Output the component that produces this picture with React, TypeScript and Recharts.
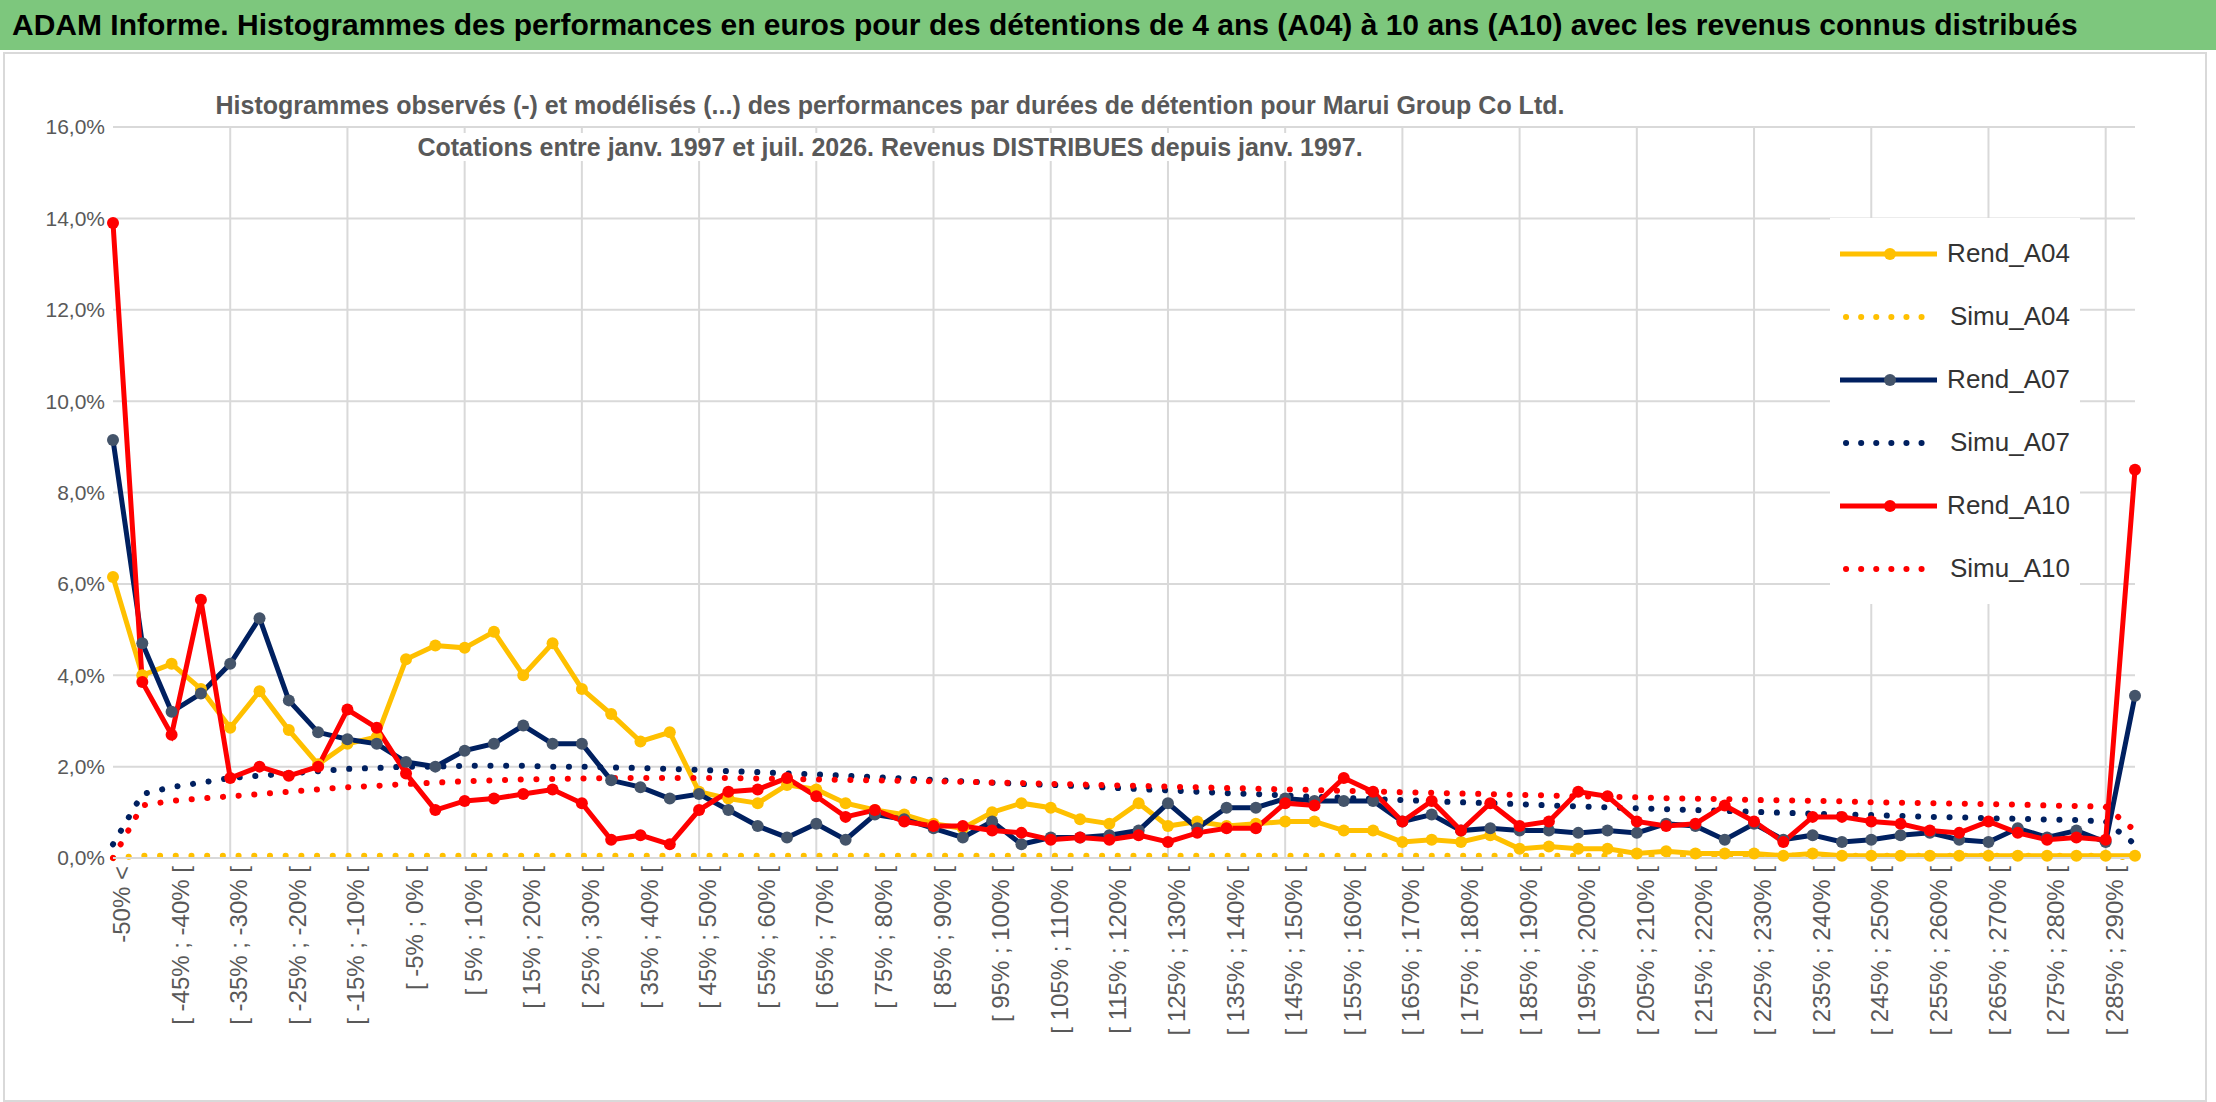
import React from "react";
import {
  LineChart,
  Line,
  XAxis,
  YAxis,
  CartesianGrid,
  ReferenceLine,
} from "recharts";

// catégories : "-50% <", puis tranches de 5% jusqu'à 290%, puis "290% >"
const CATS: string[] = [
  "-50% <",
  "[ -50% ; -45% [", "[ -45% ; -40% [", "[ -40% ; -35% [", "[ -35% ; -30% [",
  "[ -30% ; -25% [", "[ -25% ; -20% [", "[ -20% ; -15% [", "[ -15% ; -10% [",
  "[ -10% ; -5% [", "[ -5% ; 0% [", "[ 0% ; 5% [", "[ 5% ; 10% [",
  "[ 10% ; 15% [", "[ 15% ; 20% [", "[ 20% ; 25% [", "[ 25% ; 30% [",
  "[ 30% ; 35% [", "[ 35% ; 40% [", "[ 40% ; 45% [", "[ 45% ; 50% [",
  "[ 50% ; 55% [", "[ 55% ; 60% [", "[ 60% ; 65% [", "[ 65% ; 70% [",
  "[ 70% ; 75% [", "[ 75% ; 80% [", "[ 80% ; 85% [", "[ 85% ; 90% [",
  "[ 90% ; 95% [", "[ 95% ; 100% [", "[ 100% ; 105% [", "[ 105% ; 110% [",
  "[ 110% ; 115% [", "[ 115% ; 120% [", "[ 120% ; 125% [", "[ 125% ; 130% [",
  "[ 130% ; 135% [", "[ 135% ; 140% [", "[ 140% ; 145% [", "[ 145% ; 150% [",
  "[ 150% ; 155% [", "[ 155% ; 160% [", "[ 160% ; 165% [", "[ 165% ; 170% [",
  "[ 170% ; 175% [", "[ 175% ; 180% [", "[ 180% ; 185% [", "[ 185% ; 190% [",
  "[ 190% ; 195% [", "[ 195% ; 200% [", "[ 200% ; 205% [", "[ 205% ; 210% [",
  "[ 210% ; 215% [", "[ 215% ; 220% [", "[ 220% ; 225% [", "[ 225% ; 230% [",
  "[ 230% ; 235% [", "[ 235% ; 240% [", "[ 240% ; 245% [", "[ 245% ; 250% [",
  "[ 250% ; 255% [", "[ 255% ; 260% [", "[ 260% ; 265% [", "[ 265% ; 270% [",
  "[ 270% ; 275% [", "[ 275% ; 280% [", "[ 280% ; 285% [", "[ 285% ; 290% [",
  "290% >",
];

const REND_A04 = [
  6.15, 4.0, 4.25, 3.7, 2.85, 3.65, 2.8, 2.05, 2.5, 2.65,
  4.35, 4.65, 4.6, 4.95, 4.0, 4.7, 3.7, 3.15, 2.55, 2.75,
  1.45, 1.3, 1.2, 1.6, 1.5, 1.2, 1.05, 0.95, 0.75, 0.65,
  1.0, 1.2, 1.1, 0.85, 0.75, 1.2, 0.7, 0.8, 0.7, 0.75,
  0.8, 0.8, 0.6, 0.6, 0.35, 0.4, 0.35, 0.5, 0.2, 0.25,
  0.2, 0.2, 0.1, 0.15, 0.1, 0.1, 0.1, 0.05, 0.1, 0.05,
  0.05, 0.05, 0.05, 0.05, 0.05, 0.05, 0.05, 0.05, 0.05, 0.05,
];
const SIMU_A04 = [
  0.0, 0.05, 0.05, 0.05, 0.05, 0.05, 0.05, 0.05, 0.05, 0.05,
  0.05, 0.05, 0.05, 0.05, 0.05, 0.05, 0.05, 0.05, 0.05, 0.05,
  0.05, 0.05, 0.05, 0.05, 0.05, 0.05, 0.05, 0.05, 0.05, 0.05,
  0.05, 0.05, 0.05, 0.05, 0.05, 0.05, 0.05, 0.05, 0.05, 0.05,
  0.05, 0.05, 0.05, 0.05, 0.05, 0.05, 0.05, 0.05, 0.05, 0.05,
  0.05, 0.05, 0.05, 0.05, 0.05, 0.05, 0.05, 0.05, 0.05, 0.05,
  0.05, 0.05, 0.05, 0.05, 0.05, 0.05, 0.05, 0.05, 0.05, 0.0,
];
const REND_A07 = [
  9.15, 4.7, 3.2, 3.6, 4.25, 5.25, 3.45, 2.75, 2.6, 2.5,
  2.1, 2.0, 2.35, 2.5, 2.9, 2.5, 2.5, 1.7, 1.55, 1.3,
  1.4, 1.05, 0.7, 0.45, 0.75, 0.4, 0.95, 0.85, 0.65, 0.45,
  0.8, 0.3, 0.45, 0.45, 0.5, 0.6, 1.2, 0.65, 1.1, 1.1,
  1.3, 1.25, 1.25, 1.25, 0.8, 0.95, 0.6, 0.65, 0.6, 0.6,
  0.55, 0.6, 0.55, 0.75, 0.7, 0.4, 0.75, 0.4, 0.5, 0.35,
  0.4, 0.5, 0.55, 0.4, 0.35, 0.65, 0.45, 0.6, 0.35, 3.55,
];
const SIMU_A07 = [
  0.3, 1.4, 1.55, 1.65, 1.75, 1.8, 1.85, 1.9, 1.95, 1.97,
  2.0, 2.0, 2.02, 2.02, 2.02, 2.0, 2.0, 1.98, 1.97, 1.95,
  1.93, 1.9, 1.88, 1.85, 1.83, 1.8, 1.77, 1.74, 1.71, 1.68,
  1.65, 1.62, 1.6, 1.57, 1.54, 1.51, 1.48, 1.45, 1.42, 1.4,
  1.37, 1.34, 1.32, 1.29, 1.27, 1.24, 1.22, 1.2, 1.18, 1.15,
  1.13, 1.11, 1.09, 1.07, 1.05, 1.03, 1.01, 0.99, 0.97, 0.95,
  0.94, 0.92, 0.9, 0.89, 0.87, 0.86, 0.84, 0.83, 0.8, 0.3,
];
const REND_A10 = [
  13.9, 3.85, 2.7, 5.65, 1.75, 2.0, 1.8, 2.0, 3.25, 2.85,
  1.85, 1.05, 1.25, 1.3, 1.4, 1.5, 1.2, 0.4, 0.5, 0.3,
  1.05, 1.45, 1.5, 1.75, 1.35, 0.9, 1.05, 0.8, 0.7, 0.7,
  0.6, 0.55, 0.4, 0.45, 0.4, 0.5, 0.35, 0.55, 0.65, 0.65,
  1.2, 1.15, 1.75, 1.45, 0.8, 1.25, 0.6, 1.2, 0.7, 0.8,
  1.45, 1.35, 0.8, 0.7, 0.75, 1.15, 0.8, 0.35, 0.9, 0.9,
  0.8, 0.75, 0.6, 0.55, 0.8, 0.55, 0.4, 0.45, 0.4, 8.5,
];
const SIMU_A10 = [
  0.0, 1.15, 1.25, 1.3, 1.35, 1.4, 1.45, 1.5, 1.55, 1.58,
  1.62, 1.65, 1.68, 1.7, 1.72, 1.73, 1.74, 1.75, 1.75, 1.75,
  1.75, 1.75, 1.74, 1.73, 1.72, 1.71, 1.7, 1.69, 1.68, 1.67,
  1.65, 1.64, 1.62, 1.61, 1.59, 1.58, 1.56, 1.55, 1.53, 1.52,
  1.5, 1.49, 1.47, 1.46, 1.44, 1.43, 1.41, 1.4, 1.38, 1.37,
  1.35, 1.34, 1.33, 1.31, 1.3, 1.29, 1.27, 1.26, 1.25, 1.24,
  1.22, 1.21, 1.2, 1.19, 1.18, 1.17, 1.15, 1.14, 1.12, 0.6,
];

const Y_TICKS = [0, 2, 4, 6, 8, 10, 12, 14, 16];

const YELLOW = "#FFC000";
const NAVY = "#002060";
const RED = "#FF0000";
const FONT = "'Liberation Sans', Arial, sans-serif";

const SERIES = [
  { key: "Rend_A04", color: YELLOW, dotted: false, dotFill: YELLOW },
  { key: "Simu_A04", color: YELLOW, dotted: true, dotFill: YELLOW },
  { key: "Rend_A07", color: NAVY, dotted: false, dotFill: "#44546A" },
  { key: "Simu_A07", color: NAVY, dotted: true, dotFill: NAVY },
  { key: "Rend_A10", color: RED, dotted: false, dotFill: RED },
  { key: "Simu_A10", color: RED, dotted: true, dotFill: RED },
];

const rows = CATS.map((cat, i) => ({
  cat,
  Rend_A04: REND_A04[i],
  Simu_A04: SIMU_A04[i],
  Rend_A07: REND_A07[i],
  Simu_A07: SIMU_A07[i],
  Rend_A10: REND_A10[i],
  Simu_A10: SIMU_A10[i],
}));

const fmtPct = (v: number) => v.toFixed(1).replace(".", ",") + "%";

function LegendBox() {
  return (
    <div style={{ background: "#fff", padding: "4px 10px", fontFamily: FONT }}>
      {SERIES.map((s) => (
        <div key={s.key} style={{ display: "flex", alignItems: "center", height: 63 }}>
          <svg width={100} height={16}>
            {s.dotted ? (
              <line x1={6} y1={8} x2={96} y2={8} stroke={s.color} strokeWidth={6}
                strokeLinecap="round" strokeDasharray="0.1 15" />
            ) : (
              <>
                <line x1={0} y1={8} x2={100} y2={8} stroke={s.color} strokeWidth={5} />
                <circle cx={50} cy={8} r={6} fill={s.dotFill} />
              </>
            )}
          </svg>
          <span style={{ fontSize: 26, color: "#333", marginLeft: 10 }}>{s.key}</span>
        </div>
      ))}
    </div>
  );
}

export default function App() {
  return (
    <div style={{ position: "relative", width: 2216, height: 1102, background: "#fff", fontFamily: FONT }}>
      <style>{`body{margin:0}`}</style>
      <div
        style={{
          position: "absolute", left: 0, top: 0, width: 2216, height: 50, boxSizing: "border-box",
          background: "#7DC77D", display: "flex", alignItems: "center", paddingLeft: 12,
          fontSize: 30, fontWeight: "bold", color: "#000", whiteSpace: "nowrap",
        }}
      >
        ADAM Informe. Histogrammes des performances en euros pour des détentions de 4 ans (A04) à 10 ans (A10) avec les revenus connus distribués
      </div>
      <div style={{ position: "absolute", left: 3, top: 52, width: 2200, height: 1046, border: "2px solid #d9d9d9" }} />
      <div style={{ position: "absolute", left: 0, top: 52 }}>
        <LineChart width={2216} height={1045} data={rows} margin={{ top: 75, right: 81, left: 10, bottom: 5 }}>
          <CartesianGrid stroke="#d9d9d9" strokeWidth={2} vertical={false} />
          {CATS.filter((_, i) => i % 4 === 0 && i > 0).map((c) => (
            <ReferenceLine key={c} x={c} stroke="#d9d9d9" strokeWidth={2} />
          ))}
          <XAxis
            dataKey="cat"
            interval={1}
            angle={-90}
            textAnchor="end"
            height={234}
            tick={{ fontSize: 24, fill: "#595959", fontFamily: FONT }}
            tickLine={false}
            axisLine={{ stroke: "#d9d9d9", strokeWidth: 2 }}
          />
          <YAxis
            domain={[0, 16]}
            ticks={Y_TICKS}
            tickFormatter={fmtPct}
            width={103}
            tick={{ fontSize: 21, fill: "#595959", fontFamily: FONT }}
            tickLine={false}
            axisLine={false}
          />
          {SERIES.map((s) =>
            s.dotted ? (
              <Line
                key={s.key}
                dataKey={s.key}
                stroke={s.color}
                strokeWidth={6}
                strokeLinecap="round"
                strokeDasharray="0.1 15.6"
                dot={false}
                activeDot={false}
                isAnimationActive={false}
              />
            ) : (
              <Line
                key={s.key}
                dataKey={s.key}
                stroke={s.color}
                strokeWidth={5}
                dot={{ r: 6, fill: s.dotFill, stroke: s.dotFill, strokeWidth: 0 }}
                activeDot={false}
                isAnimationActive={false}
              />
            )
          )}
        </LineChart>
      </div>
      <div style={{ position: "absolute", left: 1830, top: 218, width: 250 }}>
        <LegendBox />
      </div>
      <div
        style={{
          position: "absolute", left: 200, top: 84, width: 1380, textAlign: "center",
          fontSize: 25, fontWeight: "bold", color: "#595959", lineHeight: "42px",
        }}
      >
        <span style={{ background: "#fff", padding: "0 6px" }}>Histogrammes observés (-) et modélisés (...) des performances par durées de détention pour Marui Group Co Ltd.</span>
        <br />
        <span style={{ background: "#fff", padding: "0 6px" }}>Cotations entre janv. 1997 et juil. 2026. Revenus DISTRIBUES depuis janv. 1997.</span>
      </div>
    </div>
  );
}
